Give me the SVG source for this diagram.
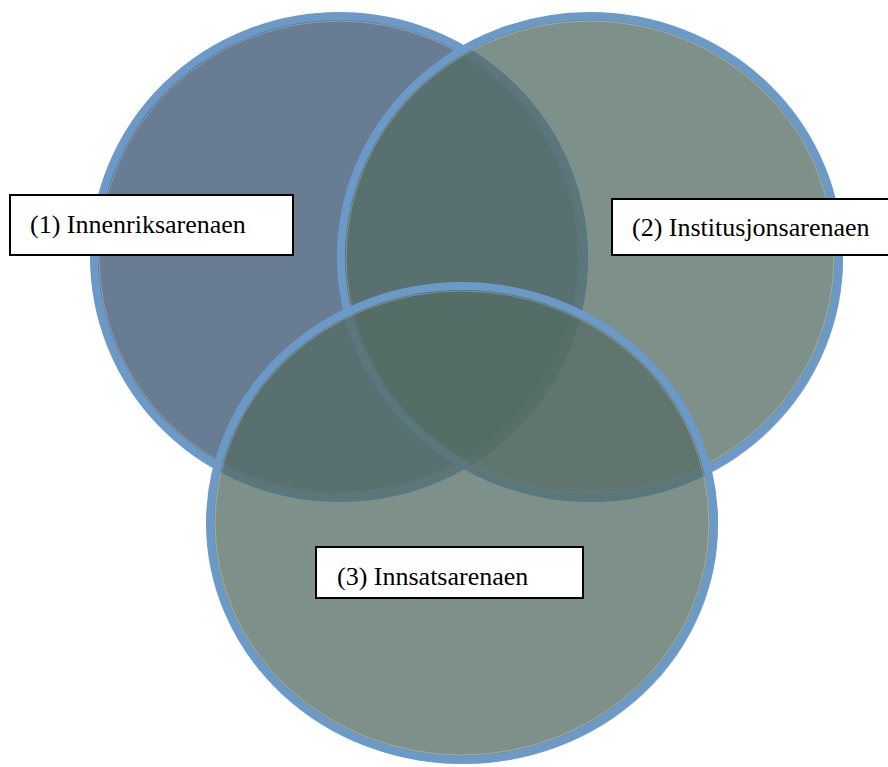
<svg xmlns="http://www.w3.org/2000/svg" width="888" height="767" viewBox="0 0 888 767">
  <style>
    .shadow { fill: none; stroke: #9a9a9a; stroke-width: 4; opacity: 0.8; }
    .c1 { fill: rgb(55,83,113); fill-opacity: 0.755; stroke: #6C9AC8; stroke-width: 8; }
    .c2 { fill: rgb(85,109,100); fill-opacity: 0.755; stroke: #6C9AC8; stroke-width: 8; }
    .hl { fill: none; stroke: #ffffff; stroke-opacity: 0.25; stroke-width: 1; }
    .box { fill: #ffffff; stroke: #000000; stroke-width: 2; }
    .lbl { font-family: 'Liberation Serif', 'Times New Roman', serif; font-size: 26px; fill: #000000; }
  </style>
  <rect width="888" height="767" fill="#ffffff"/>
  <g id="circle1">
    <ellipse class="shadow" cx="341" cy="259" rx="245" ry="241"/>
    <ellipse class="c1" cx="339" cy="257" rx="245" ry="241"/>
    <ellipse class="hl" cx="339" cy="257" rx="240" ry="236"/>
  </g>
  <g id="circle2">
    <ellipse class="shadow" cx="592" cy="259" rx="249" ry="241"/>
    <ellipse class="c2" cx="590" cy="257" rx="249" ry="241"/>
    <ellipse class="hl" cx="590" cy="257" rx="244" ry="236"/>
  </g>
  <g id="circle3">
    <ellipse class="shadow" cx="464" cy="525" rx="252" ry="237"/>
    <ellipse class="c2" cx="462" cy="523" rx="252" ry="237"/>
    <ellipse class="hl" cx="462" cy="523" rx="247" ry="232"/>
  </g>
  <g id="label1">
    <rect class="box" x="10" y="195" width="283" height="60"/>
    <text class="lbl" x="30" y="233" font-family="Liberation Serif, serif">(1) Innenriksarenaen</text>
  </g>
  <g id="label2">
    <rect class="box" x="612" y="199" width="280" height="56"/>
    <text class="lbl" x="632" y="236" font-family="Liberation Serif, serif">(2) Institusjonsarenaen</text>
  </g>
  <g id="label3">
    <rect class="box" x="316" y="547" width="267" height="51"/>
    <text class="lbl" x="337" y="585" font-family="Liberation Serif, serif">(3) Innsatsarenaen</text>
  </g>
  <g id="connectors"/>
</svg>
